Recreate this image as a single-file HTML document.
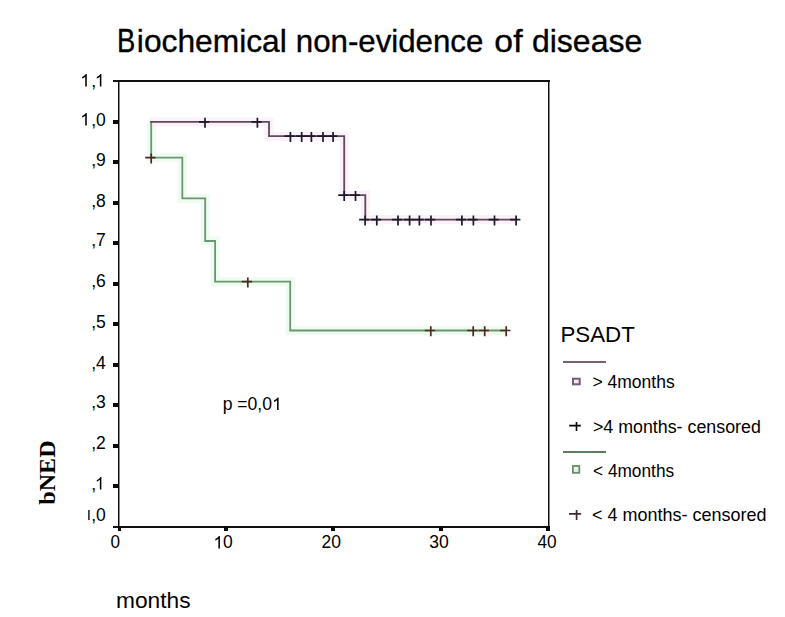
<!DOCTYPE html>
<html><head><meta charset="utf-8"><style>
html,body{margin:0;padding:0;background:#fff;}
body{width:785px;height:617px;overflow:hidden;font-family:"Liberation Sans",sans-serif;}
svg{display:block;}
text{font-kerning:none;}
</style></head><body>
<svg width="785" height="617" viewBox="0 0 785 617">
<rect x="0" y="0" width="785" height="617" fill="#fff"/>
<text transform="scale(0.80641,1)" x="145.011" y="51.60" font-family="Liberation Sans" font-size="34" fill="#000" stroke="#000" stroke-width="0.35">B</text>
<text transform="scale(0.99208,1)" x="137.949 145.058 162.855 178.855 196.652 214.449 241.105 248.215 264.215 282.012" y="51.60" font-family="Liberation Sans" font-size="32" fill="#000" stroke="#000" stroke-width="0.35">iochemical</text>
<text transform="scale(0.97622,1)" x="302.995 320.792 338.589 356.386 367.042 384.839 400.839 407.948 425.745 443.542 461.339 477.339" y="51.60" font-family="Liberation Sans" font-size="32" fill="#000" stroke="#000" stroke-width="0.35">non-evidence</text>
<text transform="scale(1.05525,1)" x="468.482 486.279" y="51.60" font-family="Liberation Sans" font-size="32" fill="#000" stroke="#000" stroke-width="0.35">of</text>
<text transform="scale(1.00056,1)" x="531.643 549.439 556.549 572.549 590.346 608.143 624.143" y="51.60" font-family="Liberation Sans" font-size="32" fill="#000" stroke="#000" stroke-width="0.35">disease</text>
<g shape-rendering="crispEdges">
<rect x="113" y="80" width="436.5" height="2" fill="#111"/>
<rect x="113" y="526" width="436.5" height="2" fill="#111"/>
<rect x="118" y="80" width="1" height="448" fill="#0a0a0a"/>
<rect x="119" y="82" width="1" height="444" fill="#8a8a8a"/>
<rect x="548" y="80" width="1" height="448" fill="#111"/>
<rect x="549" y="82" width="1" height="444" fill="#8a8a8a"/>
<rect x="113" y="119.7" width="5" height="4" fill="#0a0a0a"/>
<rect x="113" y="160.2" width="5" height="4" fill="#0a0a0a"/>
<rect x="113" y="200.7" width="5" height="4" fill="#0a0a0a"/>
<rect x="113" y="241.2" width="5" height="4" fill="#0a0a0a"/>
<rect x="113" y="281.7" width="5" height="4" fill="#0a0a0a"/>
<rect x="113" y="322.2" width="5" height="4" fill="#0a0a0a"/>
<rect x="113" y="362.7" width="5" height="4" fill="#0a0a0a"/>
<rect x="113" y="403.2" width="5" height="4" fill="#0a0a0a"/>
<rect x="113" y="443.7" width="5" height="4" fill="#0a0a0a"/>
<rect x="113" y="484.2" width="5" height="4" fill="#0a0a0a"/>
<rect x="118" y="526" width="3.0" height="5" fill="#0a0a0a"/>
<rect x="224.3" y="526" width="4.0" height="5" fill="#0a0a0a"/>
<rect x="330.8" y="526" width="4.0" height="5" fill="#0a0a0a"/>
<rect x="438.7" y="526" width="4.0" height="5" fill="#0a0a0a"/>
<rect x="546" y="526" width="3.5" height="5" fill="#0a0a0a"/>
</g>
<path transform="translate(80.27,86.50) scale(0.00854,-0.00854)" d="M763 0H583V1147Q518 1085 412.5 1023T223 930V1104Q375 1175 489 1276T650 1472H763Z" fill="#000" />
<path transform="translate(94.87,86.50) scale(0.00854,-0.00854)" d="M763 0H583V1147Q518 1085 412.5 1023T223 930V1104Q375 1175 489 1276T650 1472H763Z" fill="#000" />
<text x="91.21" y="86.50" font-family="Liberation Sans" font-size="17.5" fill="#000" >,</text>
<path transform="translate(80.27,125.50) scale(0.00854,-0.00854)" d="M763 0H583V1147Q518 1085 412.5 1023T223 930V1104Q375 1175 489 1276T650 1472H763Z" fill="#000" />
<text x="91.21 96.07" y="125.50" font-family="Liberation Sans" font-size="17.5" fill="#000" >,0</text>
<text x="91.21 96.07" y="166.00" font-family="Liberation Sans" font-size="17.5" fill="#000" >,9</text>
<text x="91.21 96.07" y="207.00" font-family="Liberation Sans" font-size="17.5" fill="#000" >,8</text>
<text x="91.21 96.07" y="246.30" font-family="Liberation Sans" font-size="17.5" fill="#000" >,7</text>
<text x="91.21 96.07" y="287.40" font-family="Liberation Sans" font-size="17.5" fill="#000" >,6</text>
<text x="91.21 96.07" y="328.20" font-family="Liberation Sans" font-size="17.5" fill="#000" >,5</text>
<text x="91.21 96.07" y="369.00" font-family="Liberation Sans" font-size="17.5" fill="#000" >,4</text>
<text x="91.21 96.07" y="408.30" font-family="Liberation Sans" font-size="17.5" fill="#000" >,3</text>
<text x="91.21 96.07" y="449.00" font-family="Liberation Sans" font-size="17.5" fill="#000" >,2</text>
<path transform="translate(94.87,489.60) scale(0.00854,-0.00854)" d="M763 0H583V1147Q518 1085 412.5 1023T223 930V1104Q375 1175 489 1276T650 1472H763Z" fill="#000" />
<text x="91.21" y="489.60" font-family="Liberation Sans" font-size="17.5" fill="#000" >,</text>
<text x="91.21 96.07" y="520.60" font-family="Liberation Sans" font-size="17.5" fill="#000" >,0</text>
<rect x="88.1" y="510" width="1.6" height="10" fill="#2a2a2a"/>
<text transform="scale(0.98130,1)" x="112.517" y="548.50" font-family="Liberation Sans" font-size="17.5" fill="#000" >0</text>
<path transform="translate(213.39,548.50) scale(0.00855,-0.00854)" d="M763 0H583V1147Q518 1085 412.5 1023T223 930V1104Q375 1175 489 1276T650 1472H763Z" fill="#000" />
<text transform="scale(1.00098,1)" x="222.916" y="548.50" font-family="Liberation Sans" font-size="17.5" fill="#000" >0</text>
<text transform="scale(0.99922,1)" x="321.676 331.408" y="548.50" font-family="Liberation Sans" font-size="17.5" fill="#000" >20</text>
<text transform="scale(1.00371,1)" x="427.653 437.386" y="548.50" font-family="Liberation Sans" font-size="17.5" fill="#000" >30</text>
<text transform="scale(0.98395,1)" x="546.278 556.011" y="548.50" font-family="Liberation Sans" font-size="17.5" fill="#000" >40</text>
<path d="M151.2,121.9 L151.2,157.6 L182.3,157.6 L182.3,198.4 L205.2,198.4 L205.2,241.0 L215.1,241.0 L215.1,281.7 L290.2,281.7 L290.2,330.5 L506.2,330.5" fill="none" stroke="#effbf0" stroke-width="9" stroke-linejoin="miter"/>
<path d="M150.0,121.9 L269.0,121.9 L269.0,136.2 L344.2,136.2 L344.2,195.1 L365.3,195.1 L365.3,219.6 L516.1,219.6" fill="none" stroke="#fbf1f9" stroke-width="9" stroke-linejoin="miter"/>
<path d="M151.2,121.9 L151.2,157.6 L182.3,157.6 L182.3,198.4 L205.2,198.4 L205.2,241.0 L215.1,241.0 L215.1,281.7 L290.2,281.7 L290.2,330.5 L506.2,330.5" fill="none" stroke="#6a9670" stroke-width="1.8" stroke-linejoin="miter"/>
<path d="M150.0,121.9 L269.0,121.9 L269.0,136.2 L344.2,136.2 L344.2,195.1 L365.3,195.1 L365.3,219.6 L516.1,219.6" fill="none" stroke="#5e4a5c" stroke-width="1.8" stroke-linejoin="miter"/>
<path d="M199.0,121.9 H209.3 M205.0,117.7 V127.7" stroke="#1c1a2a" stroke-width="1.7" fill="none"/>
<path d="M251.4,121.9 H261.7 M257.4,117.7 V127.7" stroke="#1c1a2a" stroke-width="1.7" fill="none"/>
<path d="M284.4,136.2 H294.7 M290.4,132.0 V142.0" stroke="#1c1a2a" stroke-width="1.7" fill="none"/>
<path d="M295.7,136.2 H306.0 M301.7,132.0 V142.0" stroke="#1c1a2a" stroke-width="1.7" fill="none"/>
<path d="M305.4,136.2 H315.7 M311.4,132.0 V142.0" stroke="#1c1a2a" stroke-width="1.7" fill="none"/>
<path d="M317.0,136.2 H327.3 M323.0,132.0 V142.0" stroke="#1c1a2a" stroke-width="1.7" fill="none"/>
<path d="M327.1,136.2 H337.4 M333.1,132.0 V142.0" stroke="#1c1a2a" stroke-width="1.7" fill="none"/>
<path d="M338.2,195.1 H348.5 M344.2,190.9 V200.9" stroke="#1c1a2a" stroke-width="1.7" fill="none"/>
<path d="M349.5,195.1 H359.8 M355.5,190.9 V200.9" stroke="#1c1a2a" stroke-width="1.7" fill="none"/>
<path d="M359.1,219.6 H369.4 M365.1,215.4 V225.4" stroke="#1c1a2a" stroke-width="1.7" fill="none"/>
<path d="M370.8,219.6 H381.1 M376.8,215.4 V225.4" stroke="#1c1a2a" stroke-width="1.7" fill="none"/>
<path d="M392.0,219.6 H402.3 M398.0,215.4 V225.4" stroke="#1c1a2a" stroke-width="1.7" fill="none"/>
<path d="M403.6,219.6 H413.9 M409.6,215.4 V225.4" stroke="#1c1a2a" stroke-width="1.7" fill="none"/>
<path d="M413.4,219.6 H423.7 M419.4,215.4 V225.4" stroke="#1c1a2a" stroke-width="1.7" fill="none"/>
<path d="M425.0,219.6 H435.3 M431.0,215.4 V225.4" stroke="#1c1a2a" stroke-width="1.7" fill="none"/>
<path d="M455.9,219.6 H466.2 M461.9,215.4 V225.4" stroke="#1c1a2a" stroke-width="1.7" fill="none"/>
<path d="M467.4,219.6 H477.7 M473.4,215.4 V225.4" stroke="#1c1a2a" stroke-width="1.7" fill="none"/>
<path d="M488.5,219.6 H498.8 M494.5,215.4 V225.4" stroke="#1c1a2a" stroke-width="1.7" fill="none"/>
<path d="M510.1,219.6 H520.4 M516.1,215.4 V225.4" stroke="#1c1a2a" stroke-width="1.7" fill="none"/>
<path d="M145.2,157.6 H155.5 M151.2,153.4 V163.4" stroke="#4a2a22" stroke-width="1.7" fill="none"/>
<path d="M241.8,281.7 H252.1 M247.8,277.5 V287.5" stroke="#4a2a22" stroke-width="1.7" fill="none"/>
<path d="M424.8,330.5 H435.1 M430.8,326.3 V336.3" stroke="#4a2a22" stroke-width="1.7" fill="none"/>
<path d="M467.2,330.5 H477.5 M473.2,326.3 V336.3" stroke="#4a2a22" stroke-width="1.7" fill="none"/>
<path d="M478.7,330.5 H489.0 M484.7,326.3 V336.3" stroke="#4a2a22" stroke-width="1.7" fill="none"/>
<path d="M500.2,330.5 H510.5 M506.2,326.3 V336.3" stroke="#4a2a22" stroke-width="1.7" fill="none"/>
<path transform="translate(272.05,410.00) scale(0.00859,-0.00854)" d="M763 0H583V1147Q518 1085 412.5 1023T223 930V1104Q375 1175 489 1276T650 1472H763Z" fill="#000" />
<text transform="scale(1.00506,1)" x="221.536 236.131 246.350 256.083 260.945" y="410.00" font-family="Liberation Sans" font-size="17.5" fill="#000" >p=0,0</text>
<text transform="scale(1.05708,1)" x="109.704 127.613 139.571 151.528 157.501 169.459" y="607.60" font-family="Liberation Sans" font-size="21.5" fill="#000" >months</text>
<g transform="translate(55.3,0) rotate(-90)"><text transform="scale(1.04636,1)" x="-482.341 -469.549 -452.940 -437.599" y="0.00" font-family="Liberation Serif" font-size="23" font-weight="bold" fill="#000" >bNED</text></g>
<text transform="scale(1.01381,1)" x="552.825 567.499 582.173 596.847 612.734" y="342.20" font-family="Liberation Sans" font-size="22" fill="#000" >PSADT</text>
<rect x="562.5" y="361" width="43" height="2" fill="#766074" shape-rendering="crispEdges"/>
<rect x="573" y="378.7" width="6.7" height="5.6" fill="#f6e8f4" stroke="#745a7a" stroke-width="2"/>
<text transform="scale(1.00106,1)" x="591.798 606.880 616.613 631.190 640.923 650.656 655.518 665.250" y="388.50" font-family="Liberation Sans" font-size="17.5" fill="#000" >&gt;4months</text>
<path d="M569.2,425.6 H580.8 M576.5,421.9 V431.0" stroke="#000" stroke-width="1.6" fill="none"/>
<text transform="scale(1.01845,1)" x="582.165 592.385 606.980 621.557 631.290 641.023 645.885 655.618 664.368 675.057 683.807 693.540 703.273 712.023 721.755 727.583 737.316" y="433.00" font-family="Liberation Sans" font-size="17.5" fill="#000" >&gt;4months-censored</text>
<rect x="562.5" y="451" width="43" height="2" fill="#5e7e5e" shape-rendering="crispEdges"/>
<rect x="572.9" y="466.0" width="6.4" height="6.8" fill="#e2f6e2" stroke="#6e8a6e" stroke-width="1.8"/>
<text transform="scale(0.98619,1)" x="601.341 616.423 626.156 640.734 650.466 660.199 665.061 674.794" y="476.90" font-family="Liberation Sans" font-size="17.5" fill="#000" >&lt;4months</text>
<path d="M569.0,513.8 H581.1 M576.6,509.9 V519.9" stroke="#3e2a2e" stroke-width="1.7" fill="none"/>
<text transform="scale(1.02768,1)" x="576.151 591.233 605.828 620.405 630.138 639.870 644.733 654.465 663.215 673.905 682.655 692.388 702.120 710.870 720.603 726.431 736.163" y="521.50" font-family="Liberation Sans" font-size="17.5" fill="#000" >&lt;4months-censored</text>
</svg>
</body></html>
